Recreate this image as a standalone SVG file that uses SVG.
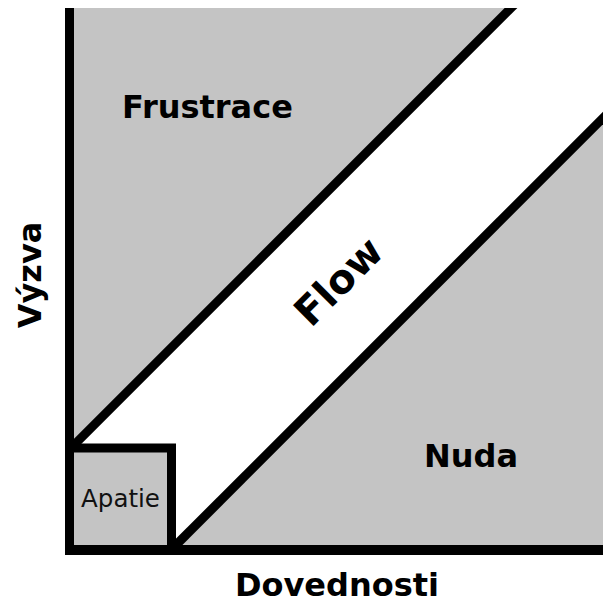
<svg xmlns="http://www.w3.org/2000/svg" width="603" height="604" viewBox="0 0 603 604">
  <style>
    .zone { fill: #c4c4c4; }
    .band { fill: #ffffff; }
    .edge { stroke: #000000; stroke-width: 9; fill: none; stroke-linecap: butt; }
    .big { font-family: "DejaVu Sans", Verdana, sans-serif; font-weight: bold; font-size: 32px; fill: #000000; text-anchor: middle; }
    .small { font-family: "DejaVu Sans", Verdana, sans-serif; font-size: 24.5px; fill: #111111; text-anchor: middle; }
  </style>
  <defs>
    <clipPath id="plot">
      <rect x="65" y="8" width="538" height="547"/>
    </clipPath>
  </defs>

  <rect width="603" height="604" fill="#ffffff"/>

  <!-- regions -->
  <g id="zones">
    <rect class="zone" x="69" y="8" width="534" height="542"/>
    <polygon class="band" points="511,8 603,8 603,118 171,550 171,448 71,448"/>
  </g>

  <!-- boundary lines and axes -->
  <g id="connectors" clip-path="url(#plot)">
    <line class="edge" x1="60" y1="459" x2="530" y2="-11"/>
    <line class="edge" x1="171" y1="550" x2="640" y2="81"/>
    <line class="edge" x1="69.5" y1="8" x2="69.5" y2="555"/>
    <line class="edge" x1="65" y1="550" x2="603" y2="550" style="stroke-width:10"/>
  </g>

  <g id="apatie">
    <rect class="edge" x="69.5" y="448" width="102" height="102"/>
    <text class="small" x="120.5" y="507">Apatie</text>
  </g>

  <g id="frustrace">
    <text class="big" x="207.5" y="118">Frustrace</text>
  </g>

  <g id="nuda">
    <text class="big" x="471" y="467">Nuda</text>
  </g>

  <g id="flow">
    <text class="big" transform="translate(338,281) rotate(-45)" x="0" y="14.5" style="font-size:40px">Flow</text>
  </g>

  <g id="axis-x">
    <text class="big" x="337" y="596">Dovednosti</text>
  </g>

  <g id="axis-y">
    <text class="big" transform="translate(41,275) rotate(-90)" x="0" y="0">Výzva</text>
  </g>
</svg>
